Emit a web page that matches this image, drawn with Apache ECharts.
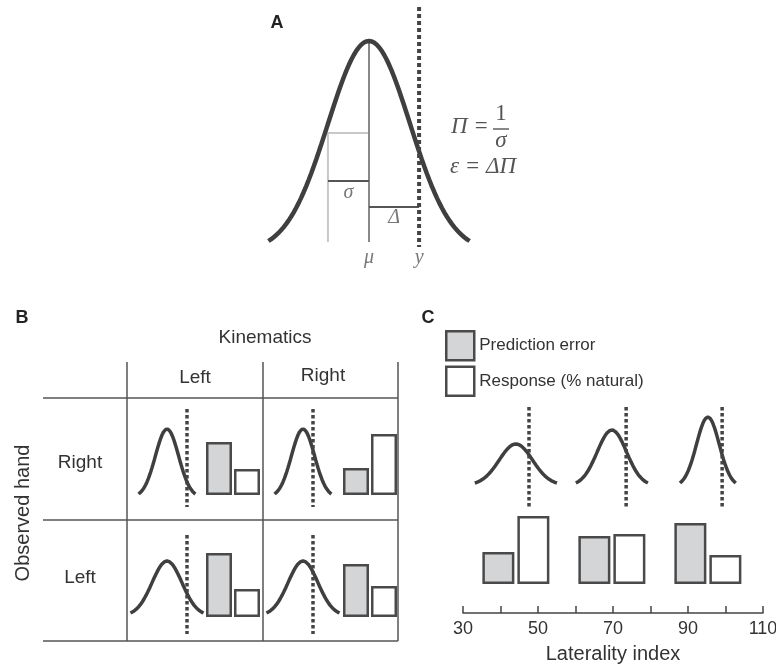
<!DOCTYPE html>
<html>
<head>
<meta charset="utf-8">
<script src="https://cdn.jsdelivr.net/npm/echarts/dist/echarts.min.js"></script>
<style>
html, body { margin: 0; padding: 0; background: #fff; }
#main { width: 776px; height: 669px; }
</style>
</head>
<body>
<div id="main"></div>
<script>
// panel A : one prediction, x in sigma units, y = density (peak 1)
var aMu = 0, aSigma = 1, aObs = 1.22;
var aBoxTop = 0.54, aSigmaLevel = 0.30, aDeltaLevel = 0.17;

// panel B : 2 x 2 table
var kinematics = ['Left', 'Right'];
var observedHand = ['Right', 'Left'];
var bMu = [40, 176];          // peak position, per kinematics column
var bObs = [60, 186];         // observation, per kinematics column
var bBarPos = [106, 243];     // bar pair position, per column
var bSigma = [11.6, 14.9];    // per observed hand row
var bPeak = [65, 52];
var bPredErr = [[53, 27], [64, 53]];
var bResponse = [[26, 61], [28, 31]];

// panel C : laterality index
var latTicks = [30, 50, 70, 90, 110];
var cMu = [44.1, 69.7, 95.3];
var cSigma = [4.47, 3.92, 3.04];
var cPeak = [39, 53, 66];
var cObs = [47.6, 73.5, 99.1];
var cPredErr = [32, 48, 61];
var cResponse = [68, 50, 29];

var SPAN = 2.45;  // curves drawn over mu +- SPAN*sigma
var INK = '#3f3f3f', GRAYFILL = '#d4d5d7', TXT = '#333';
var SANS = '"Liberation Sans", Arial, sans-serif';
var SERIF = '"Liberation Serif", "DejaVu Serif", serif';

function bell(mu, s, peak) {
	var e = Math.exp(-SPAN * SPAN / 2), pts = [];
	for (var i = 0; i <= 80; i++) {
		var x = mu - SPAN * s + 2 * SPAN * s * i / 80;
		var g = Math.exp(-Math.pow(x - mu, 2) / (2 * s * s));
		pts.push([x, peak * (g - e) / (1 - e)]);
	}
	return pts;
}

var grids = [], xAxes = [], yAxes = [], series = [];

function addGrid(box, xr, yr) {
	grids.push({ left: box[0], top: box[1], width: box[2], height: box[3], containLabel: false, outerBoundsMode: 'none' });
	var i = grids.length - 1;
	xAxes.push({ gridIndex: i, type: 'value', min: xr[0], max: xr[1], show: false });
	yAxes.push({ gridIndex: i, type: 'value', min: yr[0], max: yr[1], show: false });
	return i;
}

function seg(g, data, color, width, dash) {
	series.push({
		type: 'line', xAxisIndex: g, yAxisIndex: g, data: data,
		symbol: 'none', silent: true, animation: false,
		lineStyle: { color: color, width: width, type: dash || 'solid', cap: 'butt' }
	});
}

// ---------- A ----------
var gA = addGrid([268, 7, 202, 260], [-2.46, 2.46], [-0.13, 1.17]);
seg(gA, [[aMu - aSigma, -0.005], [aMu - aSigma, aBoxTop], [aMu, aBoxTop]], '#c8c8c8', 2);
seg(gA, [[aMu, -0.005], [aMu, 1]], '#888', 2);
seg(gA, [[aMu - aSigma, aSigmaLevel], [aMu, aSigmaLevel]], '#555', 2);
seg(gA, [[aMu, aDeltaLevel], [aObs, aDeltaLevel]], '#555', 2);
seg(gA, bell(aMu, aSigma, 1), INK, 4.5);
seg(gA, [[aObs, 1.17], [aObs, -0.03]], '#444', 4, [4, 3]);
series.push({
	type: 'scatter', xAxisIndex: gA, yAxisIndex: gA, symbolSize: 0, silent: true, animation: false,
	data: [
		{ value: [aMu, -0.085], name: 'μ' },
		{ value: [aObs, -0.085], name: 'y' },
		{ value: [aMu - aSigma / 2, aSigmaLevel - 0.06], name: 'σ' },
		{ value: [(aMu + aObs) / 2, aDeltaLevel - 0.055], name: 'Δ' }
	],
	label: {
		show: true, position: 'inside', formatter: '{b}',
		fontFamily: SERIF, fontStyle: 'italic', fontSize: 20, color: '#555'
	}
});

// ---------- B ----------
var bCurveBox = [[127, 409, 271, 98], [127, 535, 271, 99]];
var bCurveY = [[-13, 85], [-21, 78]];
var bBarBox = [[127, 425, 271, 70], [127, 547, 271, 70]];
for (var r = 0; r < 2; r++) {
	var gc = addGrid(bCurveBox[r], [0, 271], bCurveY[r]);
	for (var c = 0; c < 2; c++) {
		seg(gc, bell(bMu[c], bSigma[r], bPeak[r]), INK, 3.5);
		seg(gc, [[bObs[c], bCurveY[r][1]], [bObs[c], bCurveY[r][0]]], '#444', 3.5, [3.5, 2.5]);
	}
	var gb = addGrid(bBarBox[r], [0, 271], [0, 70]);
	series.push({
		type: 'bar', name: 'Prediction error', xAxisIndex: gb, yAxisIndex: gb,
		barWidth: 26, barGap: '7.7%', animation: false, silent: true,
		itemStyle: { color: GRAYFILL, borderColor: '#4a4a4a', borderWidth: 2.5 },
		data: [[bBarPos[0], bPredErr[r][0]], [bBarPos[1], bPredErr[r][1]]]
	});
	series.push({
		type: 'bar', name: 'Response (% natural)', xAxisIndex: gb, yAxisIndex: gb,
		barWidth: 26, barGap: '7.7%', animation: false, silent: true,
		itemStyle: { color: '#fff', borderColor: '#4a4a4a', borderWidth: 2.5 },
		data: [[bBarPos[0], bResponse[r][0]], [bBarPos[1], bResponse[r][1]]]
	});
}

// ---------- C ----------
var gC = addGrid([463, 407, 300, 100], [30, 110], [-24, 76]);
for (var i = 0; i < cMu.length; i++) {
	seg(gC, bell(cMu[i], cSigma[i], cPeak[i]), INK, 3.5);
	seg(gC, [[cObs[i], 76], [cObs[i], -24]], '#444', 3.5, [3.5, 2.5]);
}
var gCb = addGrid([463, 484, 300, 100], [30, 110], [0, 100]);
xAxes[gCb] = {
	gridIndex: gCb, type: 'value', min: 30, max: 110, interval: 10, position: 'bottom', offset: 29,
	splitLine: { show: false },
	axisLine: { show: true, onZero: false, lineStyle: { color: '#444', width: 1.5 } },
	axisTick: { show: true, inside: true, length: 7, lineStyle: { color: '#444', width: 1.5 } },
	axisLabel: {
		margin: 7, fontSize: 18, color: TXT, fontFamily: SANS,
		formatter: function (v) { return latTicks.indexOf(v) >= 0 ? String(v) : ''; }
	},
	name: 'Laterality index', nameLocation: 'middle', nameGap: 31,
	nameTextStyle: { fontSize: 20, color: TXT, fontFamily: SANS }
};
series.push({
	type: 'bar', name: 'Prediction error', xAxisIndex: gCb, yAxisIndex: gCb,
	barWidth: 32, barGap: '9.4%', animation: false, silent: true,
	itemStyle: { color: GRAYFILL, borderColor: '#4a4a4a', borderWidth: 2.5 },
	data: cMu.map(function (m, k) { return [m, cPredErr[k]]; })
});
series.push({
	type: 'bar', name: 'Response (% natural)', xAxisIndex: gCb, yAxisIndex: gCb,
	barWidth: 32, barGap: '9.4%', animation: false, silent: true,
	itemStyle: { color: '#fff', borderColor: '#4a4a4a', borderWidth: 2.5 },
	data: cMu.map(function (m, k) { return [m, cResponse[k]]; })
});

// ---------- text, table rules ----------
function txt(x, y, s, size, extra) {
	var st = { text: s, x: x, y: y, fill: TXT, font: size + 'px ' + SANS, textAlign: 'center', textVerticalAlign: 'middle' };
	for (var k in extra) st[k] = extra[k];
	return { type: 'text', style: st, silent: true };
}
function rule(x1, y1, x2, y2) {
	return { type: 'line', shape: { x1: x1, y1: y1, x2: x2, y2: y2 }, style: { stroke: '#555', lineWidth: 1.5 }, silent: true };
}
var serifFont = 'italic 23px ' + SERIF;
var graphics = [
	txt(277, 23, 'A', 18, { font: 'bold 18px ' + SANS, fill: '#222' }),
	txt(22, 318, 'B', 18, { font: 'bold 18px ' + SANS, fill: '#222' }),
	txt(428, 318, 'C', 18, { font: 'bold 18px ' + SANS, fill: '#222' }),
	txt(451, 127, 'Π =', 23, { font: serifFont, fill: '#555', textAlign: 'left' }),
	txt(501, 114, '1', 23, { font: '23px ' + SERIF, fill: '#555' }),
	{ type: 'line', shape: { x1: 493, y1: 129, x2: 509, y2: 129 }, style: { stroke: '#555', lineWidth: 1.4 }, silent: true },
	txt(501, 141, 'σ', 23, { font: serifFont, fill: '#555' }),
	txt(450, 167, 'ε = ΔΠ', 23, { font: serifFont, fill: '#555', textAlign: 'left' }),
	txt(265, 338, 'Kinematics', 19),
	txt(195, 378, kinematics[0], 19),
	txt(323, 376, kinematics[1], 19),
	txt(80, 463, observedHand[0], 19),
	txt(80, 578, observedHand[1], 19),
	{ type: 'text', x: 23, y: 513, rotation: Math.PI / 2, silent: true,
	  style: { text: 'Observed hand', font: '20px ' + SANS, fill: TXT, textAlign: 'center', textVerticalAlign: 'middle' } },
	rule(127, 362, 127, 641), rule(263, 362, 263, 641), rule(398, 362, 398, 641),
	rule(43, 398, 398, 398), rule(43, 520, 398, 520), rule(43, 641, 398, 641)
];

var myChart = echarts.init(document.getElementById('main'), null, { renderer: 'canvas' });
var option = {
	backgroundColor: '#fff',
	animation: false,
	grid: grids,
	xAxis: xAxes,
	yAxis: yAxes,
	legend: {
		data: ['Prediction error', 'Response (% natural)'],
		orient: 'vertical', left: 440, top: 325, icon: 'rect',
		itemWidth: 28, itemHeight: 29, itemGap: 4, selectedMode: false,
		itemStyle: { borderColor: '#4a4a4a', borderWidth: 2.5 },
		textStyle: { fontSize: 17, color: TXT, fontFamily: SANS }
	},
	graphic: graphics,
	series: series
};
myChart.setOption(option);
</script>
</body>
</html>
